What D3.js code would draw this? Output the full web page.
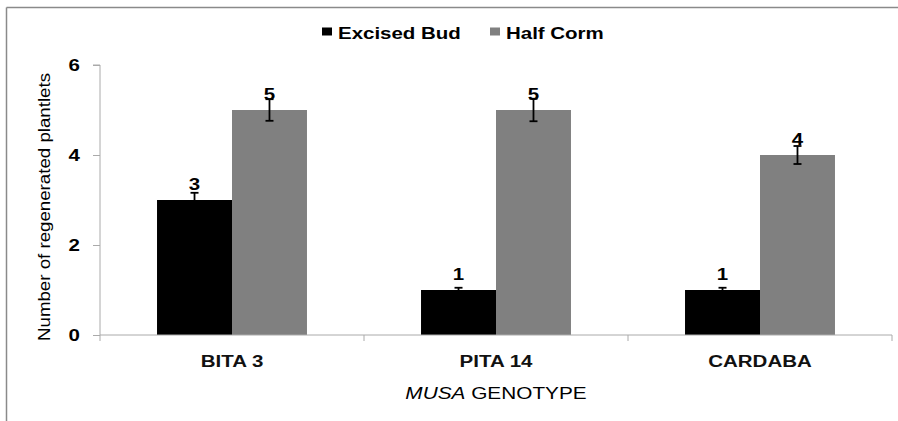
<!DOCTYPE html>
<html>
<head>
<meta charset="utf-8">
<script src="https://cdn.jsdelivr.net/npm/d3@7.9.0/dist/d3.min.js"></script>
<style>
  body { margin: 0; background: #fff; }
  svg { display: block; font-family: "Liberation Sans", Arial, sans-serif; }
</style>
</head>
<body>
<svg id="chart" width="898" height="421"></svg>
<script>
// data
const genotypes = ['BITA 3', 'PITA 14', 'CARDABA'];
const seriesNames = ['Excised Bud', 'Half Corm'];
const excisedBud = [3, 1, 1];
const halfCorm = [5, 5, 4];
const excisedBudErr = [0.16, 0.05, 0.05];
const halfCormErr = [0.24, 0.25, 0.2];
const yTicks = [0, 2, 4, 6];
const colors = ['#000000', '#808080'];

// the source picture is stretched sideways, so text gets widened too
const SX = 1.28;

const svg = d3.select('#chart');
const margin = { top: 65, left: 100, right: 6, bottom: 86 };
const width = 898 - margin.left - margin.right;
const height = 421 - margin.top - margin.bottom;

// frame round the chart area (top and left edges show)
svg.append('line').attr('x1', 6.5).attr('x2', 898).attr('y1', 7.5).attr('y2', 7.5)
  .attr('stroke', '#8a8a8a').attr('stroke-width', 1.5);
svg.append('line').attr('x1', 6.5).attr('x2', 6.5).attr('y1', 7.5).attr('y2', 421)
  .attr('stroke', '#8a8a8a').attr('stroke-width', 1.5);

const g = svg.append('g').attr('transform', `translate(${margin.left},${margin.top})`);

const x0 = d3.scaleBand().domain(genotypes).range([0, width]).paddingInner(0).paddingOuter(0);
const groupW = x0.bandwidth() * 0.568;
const x1 = d3.scaleBand().domain(seriesNames).range([0, groupW]);
const y = d3.scaleLinear().domain([0, 6]).range([height, 0]);

const series = [
  { name: seriesNames[0], values: excisedBud, errs: excisedBudErr, color: colors[0] },
  { name: seriesNames[1], values: halfCorm, errs: halfCormErr, color: colors[1] }
];

// bars
series.forEach((s) => {
  const sg = g.append('g');
  genotypes.forEach((gen, i) => {
    const bx = x0(gen) + (x0.bandwidth() - groupW) / 2 + x1(s.name);
    const cx = bx + x1.bandwidth() / 2;
    sg.append('rect')
      .attr('x', bx).attr('width', x1.bandwidth())
      .attr('y', y(s.values[i])).attr('height', y(0) - y(s.values[i]))
      .attr('fill', s.color);
    // error bar
    const hi = y(s.values[i] + s.errs[i]);
    const lo = y(s.values[i] - s.errs[i]);
    sg.append('line').attr('x1', cx).attr('x2', cx).attr('y1', hi).attr('y2', lo)
      .attr('stroke', '#000').attr('stroke-width', 1.8);
    [hi, lo].forEach((yy) => {
      sg.append('line').attr('x1', cx - 4).attr('x2', cx + 4).attr('y1', yy).attr('y2', yy)
        .attr('stroke', '#000').attr('stroke-width', 1.8);
    });
    // value label
    sg.append('text')
      .attr('transform', `translate(${cx},${y(s.values[i]) - 10}) scale(${SX},1)`)
      .attr('text-anchor', 'middle')
      .attr('font-size', 16).attr('font-weight', 'bold')
      .attr('fill', '#000')
      .text(s.values[i]);
  });
});

// y axis
const yAxis = g.append('g')
  .call(d3.axisLeft(y).tickValues(yTicks).tickFormat(d3.format('d')).tickSize(7));
yAxis.select('.domain').attr('stroke', '#aaa').attr('d', `M-7,${y(6)}H0V${y(0)}`);
yAxis.selectAll('.tick line').attr('stroke', '#aaa');
yAxis.selectAll('.tick text')
  .attr('x', -20 / SX).attr('dy', '0.36em')
  .attr('transform', `scale(${SX},1)`)
  .attr('font-size', 16).attr('font-weight', 'bold')
  .attr('fill', '#000').attr('font-family', '"Liberation Sans", Arial, sans-serif');

// x axis
const xAxis = g.append('g').attr('transform', `translate(0,${height})`)
  .call(d3.axisBottom(x0).tickSize(0));
xAxis.select('.domain').attr('stroke', '#aaa').attr('d', `M0,6V0H${width}V6`);
xAxis.selectAll('.tick text')
  .attr('y', 32).attr('dy', null)
  .attr('transform', `scale(${SX},1)`)
  .attr('font-size', 16).attr('font-weight', 'bold')
  .attr('fill', '#111').attr('font-family', '"Liberation Sans", Arial, sans-serif');
genotypes.slice(1).forEach((gen) => {
  xAxis.append('line').attr('x1', x0(gen)).attr('x2', x0(gen)).attr('y1', 0).attr('y2', 6)
    .attr('stroke', '#aaa');
});

// axis titles
const xt = svg.append('text')
  .attr('transform', `translate(${margin.left + width / 2},399) scale(1.3,1)`)
  .attr('text-anchor', 'middle').attr('font-size', 16).attr('fill', '#000');
xt.append('tspan').attr('font-style', 'italic').text('MUSA');
xt.append('tspan').text(' GENOTYPE');

svg.append('text')
  .attr('transform', 'translate(50,207) rotate(-90) scale(1.1,1)')
  .attr('text-anchor', 'middle').attr('font-size', 17).attr('fill', '#000')
  .text('Number of regenerated plantlets');

// legend
const legend = svg.append('g');
const legendX = [322, 490];
series.forEach((s, i) => {
  legend.append('rect').attr('x', legendX[i]).attr('y', 27.5).attr('width', 10).attr('height', 8)
    .attr('fill', s.color);
  legend.append('text')
    .attr('transform', `translate(${legendX[i] + 16},38.5) scale(${SX},1)`)
    .attr('font-size', 16).attr('font-weight', 'bold').attr('fill', '#000')
    .text(s.name);
});
</script>
</body>
</html>
